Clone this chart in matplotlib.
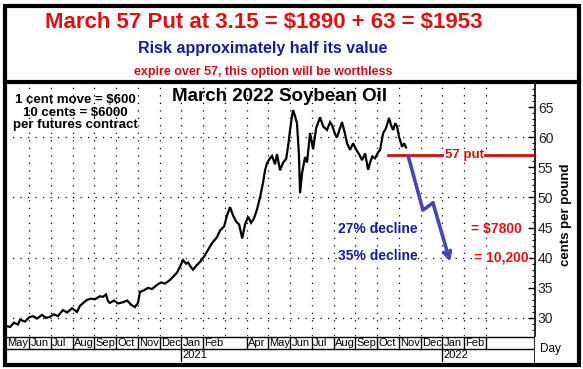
import matplotlib
matplotlib.use("Agg")
import matplotlib.pyplot as plt
from matplotlib.patches import Rectangle
from matplotlib.lines import Line2D

W, H = 583, 369

# price path: position in months since 1 May 2020, cents per pound
months = [-0.10, 0.13, 0.31, 0.49, 0.59, 0.82, 1.00, 1.18, 1.37, 1.60,
          1.78, 1.97, 2.15, 2.33, 2.56, 2.75, 2.98, 3.21, 3.34, 3.53,
          3.67, 3.85, 4.03, 4.26, 4.40, 4.54, 4.63, 4.72, 4.91, 5.09,
          5.32, 5.51, 5.69, 5.87, 6.01, 6.10, 6.29, 6.47, 6.66, 6.89,
          7.07, 7.25, 7.48, 7.67, 7.80, 7.94, 8.08, 8.22, 8.31, 8.45,
          8.54, 8.72, 8.86, 9.05, 9.23, 9.41, 9.64, 9.78, 9.97, 10.10,
          10.24, 10.38, 10.52, 10.66, 10.80, 10.93, 11.07, 11.21, 11.34, 11.48,
          11.62, 11.76, 11.85, 11.94, 12.08, 12.17, 12.31, 12.40, 12.54, 12.68,
          12.82, 12.91, 13.00, 13.09, 13.14, 13.23, 13.32, 13.41, 13.46, 13.55,
          13.69, 13.78, 13.92, 14.06, 14.20, 14.38, 14.52, 14.70, 14.84, 14.93,
          15.07, 15.16, 15.30, 15.39, 15.53, 15.62, 15.76, 15.90, 16.03, 16.17,
          16.31, 16.45, 16.59, 16.68, 16.78, 16.91, 17.05, 17.14, 17.28, 17.41,
          17.55, 17.64, 17.74, 17.83, 17.92, 18.01, 18.06, 18.15, 18.24, 18.33]
price = [28.7, 28.5, 29.2, 28.9, 29.7, 29.4, 30.1, 30.3, 29.9, 30.5,
         30.0, 30.2, 30.6, 30.3, 31.3, 30.9, 31.6, 31.0, 32.0, 32.6,
         33.0, 33.2, 33.1, 33.6, 33.5, 33.9, 32.8, 32.5, 32.9, 32.4,
         32.6, 32.9, 32.2, 31.8, 32.5, 34.3, 34.6, 35.0, 34.8, 35.5,
         35.9, 35.7, 36.3, 37.0, 37.5, 38.5, 39.6, 39.0, 39.2, 38.4,
         38.0, 38.8, 39.3, 40.2, 41.3, 42.4, 43.4, 44.5, 45.2, 47.0,
         48.4, 47.0, 46.0, 45.5, 43.2, 45.5, 46.8, 45.8, 46.5, 48.0,
         50.0, 52.5, 54.5, 55.7, 56.5, 56.9, 55.5, 57.2, 54.5, 55.8,
         56.4, 58.5, 61.2, 63.5, 64.5, 63.5, 62.3, 57.0, 50.7, 54.0,
         56.7, 55.8, 60.7, 58.0, 61.5, 63.3, 61.8, 61.2, 62.5, 62.0,
         60.5, 60.0, 61.5, 62.5, 60.5, 59.0, 57.9, 59.0, 58.0, 57.2,
         56.2, 57.3, 54.6, 55.8, 56.8, 56.5, 57.5, 57.9, 60.7, 61.5,
         63.2, 62.0, 61.2, 62.3, 61.8, 60.0, 59.5, 58.4, 59.0, 58.3]

# projected decline path (blue arrow)
proj_m = [18.43, 19.11, 19.57, 20.36]
proj_p = [56.9, 47.9, 49.1, 39.3]

put_strike = 57
put_start = 17.5
yticks = [30, 35, 40, 45, 50, 55, 60, 65]
grid_y = [30, 40, 50, 60]
month_names = ["May", "Jun", "Jul", "Aug", "Sep", "Oct", "Nov", "Dec", "Jan", "Feb", "",
               "Apr", "May", "Jun", "Jul", "Aug", "Sep", "Oct", "Nov", "Dec", "Jan", "Feb"]
years = {"2021": 8, "2022": 20}

RED = "#e01010"
DRED = "#d01010"
NAVY = "#1a1aa0"
ARROW = "#4646b8"

plt.rcParams['font.family'] = ['Liberation Sans', 'DejaVu Sans']

fig = plt.figure(figsize=(W / 100, H / 100), dpi=100)
fig.patch.set_facecolor("white")


def box(x0, y0, x1, y1):
    # pixel box -> figure fraction [left, bottom, width, height]
    return [x0 / W, 1 - y1 / H, (x1 - x0) / W, (y1 - y0) / H]


xlim = (-0.103, 24.26)

ax = fig.add_axes(box(5, 83, 535, 336))
ax.plot(months, price, color="black", lw=1.6, solid_joinstyle="miter")
ax.set_xlim(*xlim)
ax.set_ylim(27.0, 69.0)
for s in ["left", "top", "bottom"]:
    ax.spines[s].set_visible(False)
ax.spines["right"].set_linewidth(1.2)
ax.yaxis.tick_right()
ax.set_yticks(yticks)
ax.set_yticks(range(28, 69), minor=True)
ax.tick_params(axis="y", which="major", direction="in", length=5, width=1,
               labelsize=10, pad=2, labelcolor="#222222")
ax.tick_params(axis="y", which="minor", direction="in", length=2, width=0.8)
ax.set_xticks([])
for g in grid_y:
    ax.axhline(g, color="black", lw=0.9, ls=(0, (1, 5)), zorder=0)
for m in range(1, 23):
    ax.axvline(m, color="black", lw=0.9, ls=(0, (1, 5)), zorder=0)

# 57 put line
ax.plot([put_start, xlim[1]], [put_strike, put_strike], color=DRED, lw=2, zorder=3)
ax.text(21.0, put_strike, "57 put", color=DRED, fontsize=9.5, fontweight="bold",
        ha="center", va="center", zorder=4,
        bbox=dict(facecolor="white", edgecolor="none", pad=0.5))

# projected decline
ax.plot(proj_m[:3], proj_p[:3], color=ARROW, lw=2.6, zorder=5, solid_capstyle="round")
ax.annotate("", xy=(proj_m[3], proj_p[3]), xytext=(proj_m[2], proj_p[2]), zorder=5,
            arrowprops=dict(arrowstyle="->,head_length=0.5,head_width=0.25",
                            color=ARROW, lw=2.6, shrinkA=0, shrinkB=0))

ax.text(17.05, 44.8, "27% decline", color=NAVY, fontsize=10, fontweight="bold",
        ha="center", va="center")
ax.text(17.05, 40.3, "35% decline", color=NAVY, fontsize=10, fontweight="bold",
        ha="center", va="center", bbox=dict(facecolor="white", edgecolor="none", pad=0.3))
ax.text(22.5, 44.8, "= \\$7800", color=RED, fontsize=10, fontweight="bold",
        ha="center", va="center")
ax.text(22.7, 40.1, "= 10,200", color=RED, fontsize=10, fontweight="bold",
        ha="center", va="center", bbox=dict(facecolor="white", edgecolor="none", pad=0.3))

fig.text(280 / W, 1 - 96 / H, "March 2022 Soybean Oil", fontsize=13.5,
         fontweight="bold", ha="center", va="center")
fig.text(75 / W, 1 - 112.5 / H,
         "1 cent move = \\$600\n10 cents = \\$6000\nper futures contract",
         fontsize=9.5, fontweight="bold", ha="center", va="center", linespacing=1.1)

fig.text(566 / W, 1 - 215 / H, "cents per pound", rotation=90, fontsize=9.5,
         fontweight="bold", ha="center", va="center")

# month / year strip
ax2 = fig.add_axes(box(5, 336, 535, 363))
ax2.set_xlim(*xlim)
ax2.set_ylim(27, 0)
ax2.axis("off")
ax2.plot(xlim, [1, 1], color="black", lw=1)
ax2.plot(xlim, [13, 13], color="black", lw=1)
ax2.plot([xlim[1], xlim[1]], [0, 27], color="black", lw=1.2)
for i, name in enumerate(month_names):
    if name:
        if i > 0:
            ax2.plot([i, i], [1, 13], color="black", lw=1)
        ax2.text(i + 0.06 if i > 0 else 0.0, 7.3, name, fontsize=8, ha="left", va="center")
ax2.plot([22, 22], [1, 13], color="black", lw=1)
for y, m in years.items():
    ax2.plot([m, m], [13, 25], color="black", lw=1)
    ax2.text(m + 0.05, 19.5, y, fontsize=8, ha="left", va="center")
fig.text(550 / W, 1 - 349 / H, "Day", fontsize=8.5, ha="center", va="center")

# frame and title panel
fig.add_artist(Rectangle((4.5 / W, 1 - 365 / H), 574.5 / W, 359 / H,
                         transform=fig.transFigure, fill=False, edgecolor="black", lw=3))
fig.add_artist(Line2D([4.5 / W, 579 / W], [1 - 81.5 / H, 1 - 81.5 / H],
                      transform=fig.transFigure, color="black", lw=3))

fig.text(264 / W, 1 - 23 / H, "March 57 Put at 3.15 = \\$1890 + 63 = \\$1953", color=RED,
         fontsize=16, fontweight="bold", ha="center", va="center")
fig.text(263 / W, 1 - 49 / H, "Risk approximately half its value", color=NAVY,
         fontsize=11.5, fontweight="bold", ha="center", va="center")
fig.text(263 / W, 1 - 72 / H, "expire over 57, this option will be worthless", color=DRED,
         fontsize=9, fontweight="bold", ha="center", va="center")

fig.savefig("out.png", dpi=100)
